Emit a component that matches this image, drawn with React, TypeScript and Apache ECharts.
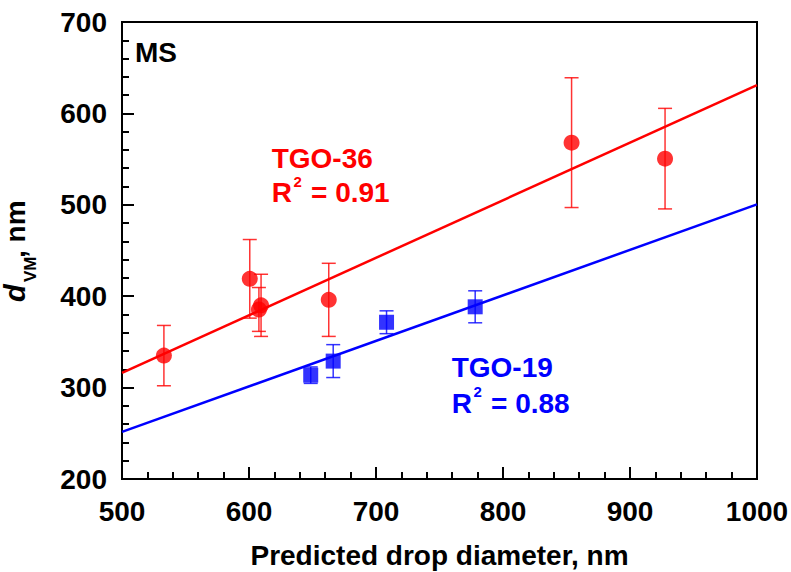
import React, { useEffect, useRef } from "react";
import * as echarts from "echarts";

// ---- data ----
const redX = [533, 600.6, 607.8, 609.5, 662.8, 854, 927.6];
const redY = [335, 419, 385.5, 390, 396, 568, 550.5];
const redErr = [33, 43, 24, 34, 40, 71, 55];

const blueX = [648.6, 666.3, 708.3, 778.1];
const blueY = [313.6, 329, 371.5, 388.4];
const blueErr = [9, 18, 12.5, 17.5];

const fitX = [500, 1000];
const redFitY = [316, 631];
const blueFitY = [251.5, 500.5];

const xTicks = [500, 600, 700, 800, 900, 1000];
const yTicks = [200, 300, 400, 500, 600, 700];

const FONT = '"Liberation Sans", Arial, Helvetica, sans-serif';
const RED = "#ff0000";
const BLUE = "#0000ff";

function errSeries(xs: number[], ys: number[], es: number[], color: string) {
  return {
    type: "custom",
    silent: true,
    z: 2,
    encode: { x: 0, y: [1, 2] },
    data: xs.map((x, i) => [x, ys[i] - es[i], ys[i] + es[i]]),
    renderItem: (params: any, api: any) => {
      const x = api.value(0);
      const lo = api.value(1);
      const hi = api.value(2);
      const p1 = api.coord([x, hi]);
      const p2 = api.coord([x, lo]);
      const w = 7;
      const st = { stroke: color, lineWidth: 1.5, opacity: 0.8 };
      return {
        type: "group",
        children: [
          { type: "line", shape: { x1: p1[0], y1: p1[1], x2: p2[0], y2: p2[1] }, style: st },
          { type: "line", shape: { x1: p1[0] - w, y1: p1[1], x2: p1[0] + w, y2: p1[1] }, style: st },
          { type: "line", shape: { x1: p2[0] - w, y1: p2[1], x2: p2[0] + w, y2: p2[1] }, style: st },
        ],
      };
    },
  };
}

function txt(x: number, y: number, text: string, color: string, size: number) {
  return {
    type: "text",
    x,
    y,
    silent: true,
    z: 10,
    style: {
      text,
      fill: color,
      font: `bold ${size}px ${FONT}`,
      textAlign: "left",
      textVerticalAlign: "middle",
    },
  };
}

export default function App() {
  const ref = useRef<HTMLDivElement>(null);
  useEffect(() => {
    if (!ref.current) return;
    const chart = echarts.init(ref.current, undefined, { renderer: "svg" });
    const rot = Math.PI / 2;
    chart.setOption({
      animation: false,
      backgroundColor: "#ffffff",
      grid: {
        left: 122,
        right: 34,
        top: 22,
        bottom: 93,
        containLabel: false,
        outerBoundsMode: "none",
        show: true,
        borderColor: "#000",
        borderWidth: 2,
        backgroundColor: "transparent",
      },
      xAxis: {
        type: "value",
        min: xTicks[0],
        max: xTicks[xTicks.length - 1],
        interval: 100,
        name: "Predicted drop diameter, nm",
        nameLocation: "middle",
        nameGap: 62,
        nameTextStyle: { fontSize: 28, fontWeight: "bold", fontFamily: FONT, color: "#000" },
        axisLine: { show: true, lineStyle: { color: "#000", width: 2 } },
        axisTick: { show: true, inside: true, length: 12, lineStyle: { color: "#000", width: 2 } },
        minorTick: { show: true, splitNumber: 5, length: 7, lineStyle: { color: "#000", width: 2 } },
        splitLine: { show: false },
        axisLabel: {
          fontSize: 28,
          fontWeight: "bold",
          fontFamily: FONT,
          color: "#000",
          margin: 18,
          showMinLabel: true,
          showMaxLabel: true,
          formatter: (v: number) => String(v),
        },
      },
      yAxis: {
        type: "value",
        min: yTicks[0],
        max: yTicks[yTicks.length - 1],
        interval: 100,
        axisLine: { show: true, lineStyle: { color: "#000", width: 2 } },
        axisTick: { show: true, inside: true, length: 12, lineStyle: { color: "#000", width: 2 } },
        minorTick: { show: true, splitNumber: 5, length: 7, lineStyle: { color: "#000", width: 2 } },
        splitLine: { show: false },
        axisLabel: {
          fontSize: 28,
          fontWeight: "bold",
          fontFamily: FONT,
          color: "#000",
          margin: 15,
          formatter: (v: number) => String(v),
        },
      },
      graphic: [
        txt(135, 52, "MS", "#000", 28),
        txt(271.7, 158.5, "TGO-36", RED, 28),
        txt(271.7, 192.5, "R", RED, 28),
        txt(293.5, 181.5, "2", RED, 15),
        txt(311, 192.5, "= 0.91", RED, 28),
        txt(451.7, 367, "TGO-19", BLUE, 28),
        txt(451.7, 403.3, "R", BLUE, 28),
        txt(473.5, 391, "2", BLUE, 15),
        txt(491, 403.3, "= 0.88", BLUE, 28),
        // y axis title (rotated)
        {
          type: "text",
          x: 15,
          y: 302,
          rotation: rot,
          silent: true,
          style: {
            text: "d",
            fill: "#000",
            font: `italic bold 29px ${FONT}`,
            textAlign: "left",
            textVerticalAlign: "middle",
          },
        },
        {
          type: "text",
          x: 30,
          y: 282,
          rotation: rot,
          silent: true,
          style: {
            text: "VM",
            fill: "#000",
            font: `bold 17px ${FONT}`,
            textAlign: "left",
            textVerticalAlign: "middle",
          },
        },
        {
          type: "text",
          x: 15,
          y: 258,
          rotation: rot,
          silent: true,
          style: {
            text: ", nm",
            fill: "#000",
            font: `bold 28px ${FONT}`,
            textAlign: "left",
            textVerticalAlign: "middle",
          },
        },
      ],
      series: [
        errSeries(redX, redY, redErr, RED),
        errSeries(blueX, blueY, blueErr, BLUE),
        {
          type: "line",
          silent: true,
          z: 3,
          symbol: "none",
          data: fitX.map((x, i) => [x, redFitY[i]]),
          lineStyle: { color: RED, width: 2.5 },
        },
        {
          type: "line",
          silent: true,
          z: 3,
          symbol: "none",
          data: fitX.map((x, i) => [x, blueFitY[i]]),
          lineStyle: { color: BLUE, width: 2.5 },
        },
        {
          type: "scatter",
          silent: true,
          z: 4,
          symbol: "circle",
          symbolSize: 16,
          itemStyle: { color: RED },
          data: redX.map((x, i) => [x, redY[i]]),
        },
        {
          type: "scatter",
          silent: true,
          z: 4,
          symbol: "rect",
          symbolSize: 15,
          itemStyle: { color: BLUE },
          data: blueX.map((x, i) => [x, blueY[i]]),
        },
      ],
    });
    return () => chart.dispose();
  }, []);
  return (
    <div
      ref={ref}
      style={{ position: "fixed", left: 0, top: 0, width: 791, height: 572, background: "#fff" }}
    />
  );
}
